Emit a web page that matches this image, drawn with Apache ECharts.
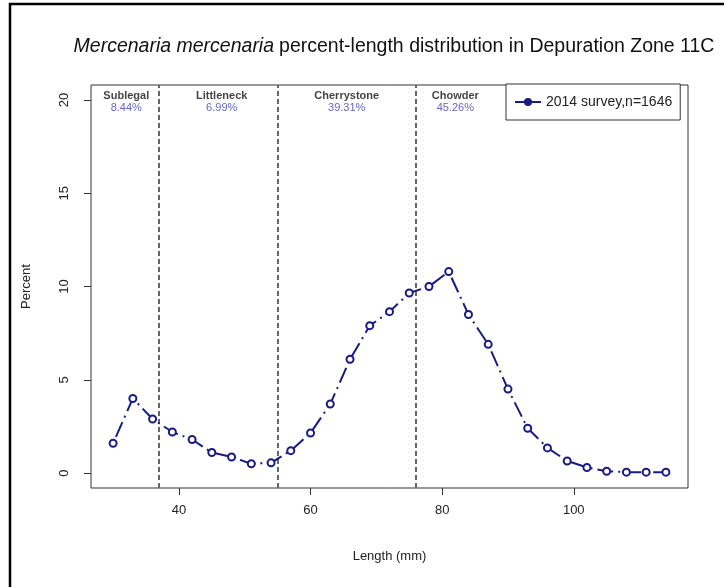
<!DOCTYPE html>
<html>
<head>
<meta charset="utf-8">
<script src="https://cdn.jsdelivr.net/npm/echarts@6/dist/echarts.min.js"></script>
<style>
html,body{margin:0;padding:0;background:#fff;}
#chart{width:724px;height:587px;}
</style>
</head>
<body>
<div id="chart"></div>
<script>
// Length classes (mm) and percent values
const lengths = [30,33,36,39,42,45,48,51,54,57,60,63,66,69,72,75,78,81,84,87,90,93,96,99,102,105,108,111,114];
const percents = [1.6,4.0,2.9,2.2,1.8,1.1,0.86,0.5,0.55,1.2,2.15,3.7,6.1,7.9,8.65,9.65,10.0,10.8,8.5,6.9,4.5,2.4,1.35,0.65,0.3,0.1,0.05,0.05,0.05];
const seriesName = '2014 survey,n=1646';

// Market-size class boundaries and labels
const boundaries = [37,55,76];
const zoneNames = ['Sublegal','Littleneck','Cherrystone','Chowder'];
const zonePercents = ['8.44%','6.99%','39.31%','45.26%'];
const zoneLabelX = [32,46.5,65.5,82];
const zoneLabelY = 19.9;

const xTicks = [40,60,80,100];
const yTicks = [0,5,10,15,20];

const FONT = 'Arial, "Liberation Sans", sans-serif';
const NAVY = '#1a1a84';

const chart = echarts.init(document.getElementById('chart'), null, {renderer:'canvas'});
chart.setOption({
  backgroundColor:'#fff',
  animation:false,
  textStyle:{fontFamily:FONT},
  title:{
    text:'{i|Mercenaria mercenaria} {n|percent-length distribution in Depuration Zone 11C}',
    left:389, top:32, textAlign:'center',
    textStyle:{
      fontWeight:'normal',
      rich:{
        i:{fontStyle:'italic', fontWeight:'normal', fontSize:19.5, color:'#111', fontFamily:FONT},
        n:{fontWeight:'normal', fontSize:19.5, color:'#111', fontFamily:FONT}
      }
    }
  },
  graphic:[{
    type:'rect', silent:true, z:-1,
    shape:{x:10,y:4,width:800,height:700},
    style:{fill:'none', stroke:'#000', lineWidth:2.5}
  }],
  legend:{
    data:[seriesName],
    left:506, top:84,
    orient:'vertical',
    padding:[11,8,11,8],
    borderColor:'#333', borderWidth:1,
    backgroundColor:'#fff',
    itemWidth:26, itemHeight:10,
    itemGap:5,
    textStyle:{fontSize:14, color:'#222', fontFamily:FONT},
    itemStyle:{color:NAVY, borderWidth:0},
    lineStyle:{type:'solid', width:2, color:NAVY}
  },
  grid:{left:91, right:36, top:85, bottom:99, show:true, borderColor:'#333', borderWidth:1, containLabel:false},
  xAxis:{
    type:'value', min:26.64, max:117.36,
    name:'Length (mm)', nameLocation:'middle', nameGap:62,
    nameTextStyle:{fontSize:13, color:'#222'},
    axisLine:{show:false, onZero:false},
    splitLine:{show:false},
    axisTick:{show:true, inside:false, length:7, lineStyle:{color:'#333'}, customValues:xTicks},
    axisLabel:{fontSize:13, color:'#222', margin:16, customValues:xTicks}
  },
  yAxis:{
    type:'value', min:-0.8, max:20.8,
    name:'Percent', nameLocation:'middle', nameGap:58, nameRotate:90,
    nameTextStyle:{fontSize:13, color:'#222'},
    axisLine:{show:false, onZero:false},
    splitLine:{show:false},
    axisTick:{show:true, inside:false, length:7, lineStyle:{color:'#333'}, customValues:yTicks},
    axisLabel:{fontSize:13, color:'#222', margin:20, rotate:90, customValues:yTicks}
  },
  series:[
    {
      name:seriesName,
      type:'line',
      data:lengths.map((x,i)=>[x,percents[i]]),
      symbol:'circle', symbolSize:7,
      showSymbol:true,
      itemStyle:{color:'#fff', borderColor:NAVY, borderWidth:2},
      lineStyle:{color:NAVY, width:2, type:[2,5,16,5]},
      z:5,
      markLine:{
        silent:true, symbol:'none', animation:false,
        label:{show:false},
        lineStyle:{color:'#666', type:[5,3], width:2},
        data:boundaries.map(v=>({xAxis:v}))
      }
    },
    {
      name:'zones',
      type:'scatter',
      symbolSize:0,
      silent:true,
      data:zoneLabelX.map((x,i)=>({value:[x,zoneLabelY], name:zoneNames[i], pct:zonePercents[i]})),
      label:{
        show:true, position:'inside',
        formatter:p=>'{a|'+p.data.name+'}\n{b|'+p.data.pct+'}',
        rich:{
          a:{fontSize:11, fontWeight:'bold', color:'#111', fontFamily:FONT, lineHeight:12, align:'center'},
          b:{fontSize:11, color:'#4040b0', fontFamily:FONT, lineHeight:12, align:'center'}
        }
      }
    }
  ]
});
</script>
</body>
</html>
